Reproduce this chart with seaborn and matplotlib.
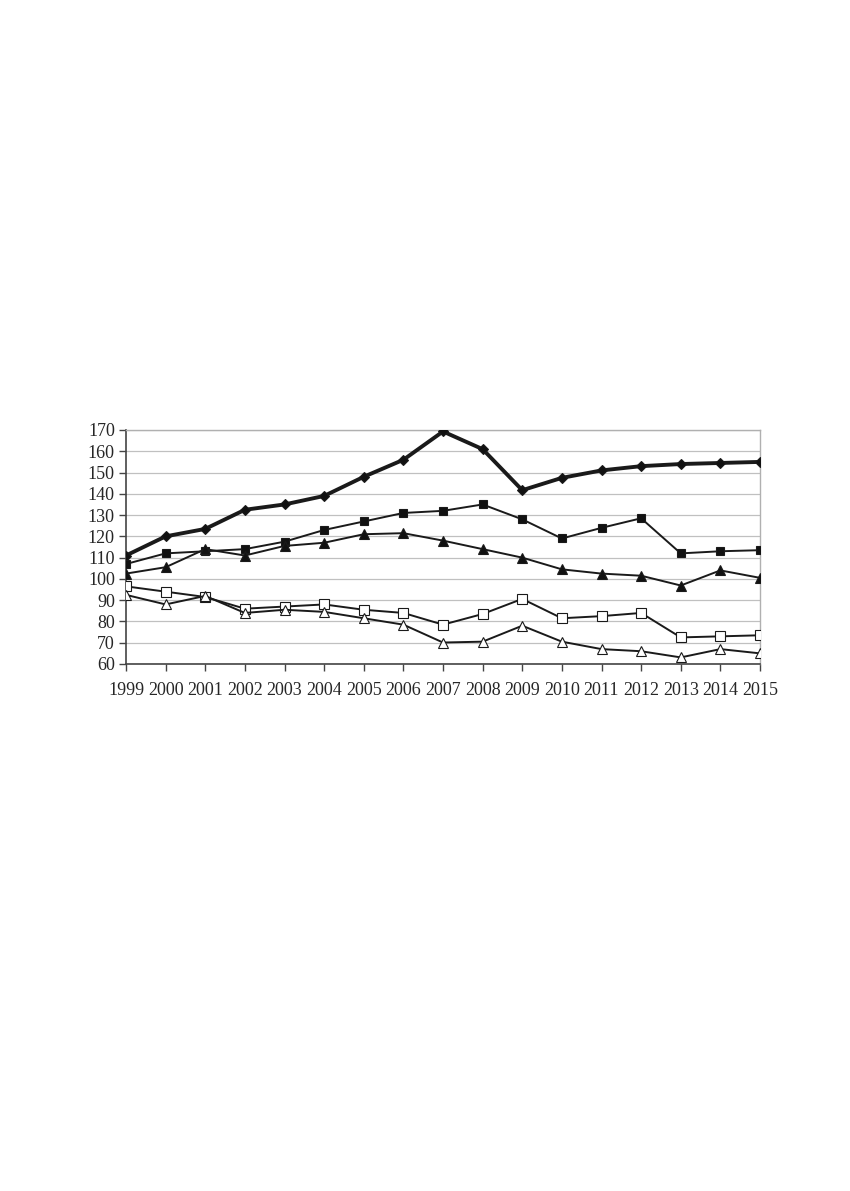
import pandas as pd
import matplotlib
matplotlib.use("Agg")
import matplotlib.pyplot as plt
import seaborn as sns

# Data
years = list(range(1999, 2016))
diamond_vals = [111, 120, 123.5, 132.5, 135, 139, 148, 156, 169.3, 161, 141.7,
                147.5, 151, 153, 154, 154.5, 155]
square_vals = [107, 112, 113, 114, 117.5, 123, 127, 131, 132, 135, 128,
               119, 124, 128.5, 112, 113, 113.5]
triangle_vals = [102.5, 105.5, 114, 111, 115.5, 117, 121, 121.5, 118, 114, 110,
                 104.5, 102.5, 101.5, 96.9, 104, 100.5]
open_square_vals = [96.5, 94, 91.5, 86, 87, 88, 85.5, 84, 78.5, 83.5, 90.6,
                    81.5, 82.5, 84, 72.5, 73, 73.5]
open_triangle_vals = [92.5, 88, 92, 84, 85.5, 84.5, 81.5, 78.5, 70.1, 70.5, 78,
                      70.5, 67, 66, 63.1, 67, 65]
y_ticks = list(range(60, 171, 10))

series = {
    "diamond": diamond_vals,
    "square": square_vals,
    "triangle": triangle_vals,
    "open_square": open_square_vals,
    "open_triangle": open_triangle_vals,
}
rows = []
for name, vals in series.items():
    for yr, v in zip(years, vals):
        rows.append({"series": name, "year": yr, "value": v})
df = pd.DataFrame(rows)

sns.set_style("white")
plt.rcParams["font.family"] = ["Liberation Serif", "DejaVu Serif"]

fig = plt.figure(figsize=(8.5, 11.91), dpi=100)
ax = fig.add_axes([126 / 850, 1 - 664 / 1191, (760 - 126) / 850, (664 - 430) / 1191])

styles = {
    "diamond": dict(marker="D", lw=2.8, ms=5, mfc="#111111"),
    "square": dict(marker="s", lw=1.4, ms=6, mfc="#111111"),
    "triangle": dict(marker="^", lw=1.4, ms=6.5, mfc="#111111"),
    "open_square": dict(marker="s", lw=1.4, ms=7, mfc="white"),
    "open_triangle": dict(marker="^", lw=1.4, ms=7, mfc="white"),
}
for name in series:
    st = styles[name]
    sns.lineplot(data=df[df["series"] == name], x="year", y="value", ax=ax,
                 color="#1a1a1a", lw=st["lw"], marker=st["marker"],
                 markersize=st["ms"], markerfacecolor=st["mfc"],
                 markeredgecolor="#1a1a1a", markeredgewidth=0.8,
                 legend=False, zorder=3)

ax.set_xlim(1999, 2015)
ax.set_ylim(60, 170)
ax.set_xticks(years)
ax.set_xticklabels([str(y) for y in years])
ax.set_yticks(y_ticks)
ax.yaxis.grid(True, color="#c0c0c0", lw=0.9)
ax.set_axisbelow(True)
ax.set_xlabel("")
ax.set_ylabel("")

for side in ["top", "right"]:
    ax.spines[side].set_color("#b0b0b0")
    ax.spines[side].set_linewidth(1.0)
for side in ["left", "bottom"]:
    ax.spines[side].set_color("#444444")
    ax.spines[side].set_linewidth(1.2)

ax.tick_params(axis="both", direction="out", length=5, width=1.0,
               color="#444444", labelsize=13, left=True, bottom=True)
ax.tick_params(axis="x", pad=8)
ax.tick_params(axis="y", pad=3)

fig.savefig("out.png", dpi=100, facecolor="white")
